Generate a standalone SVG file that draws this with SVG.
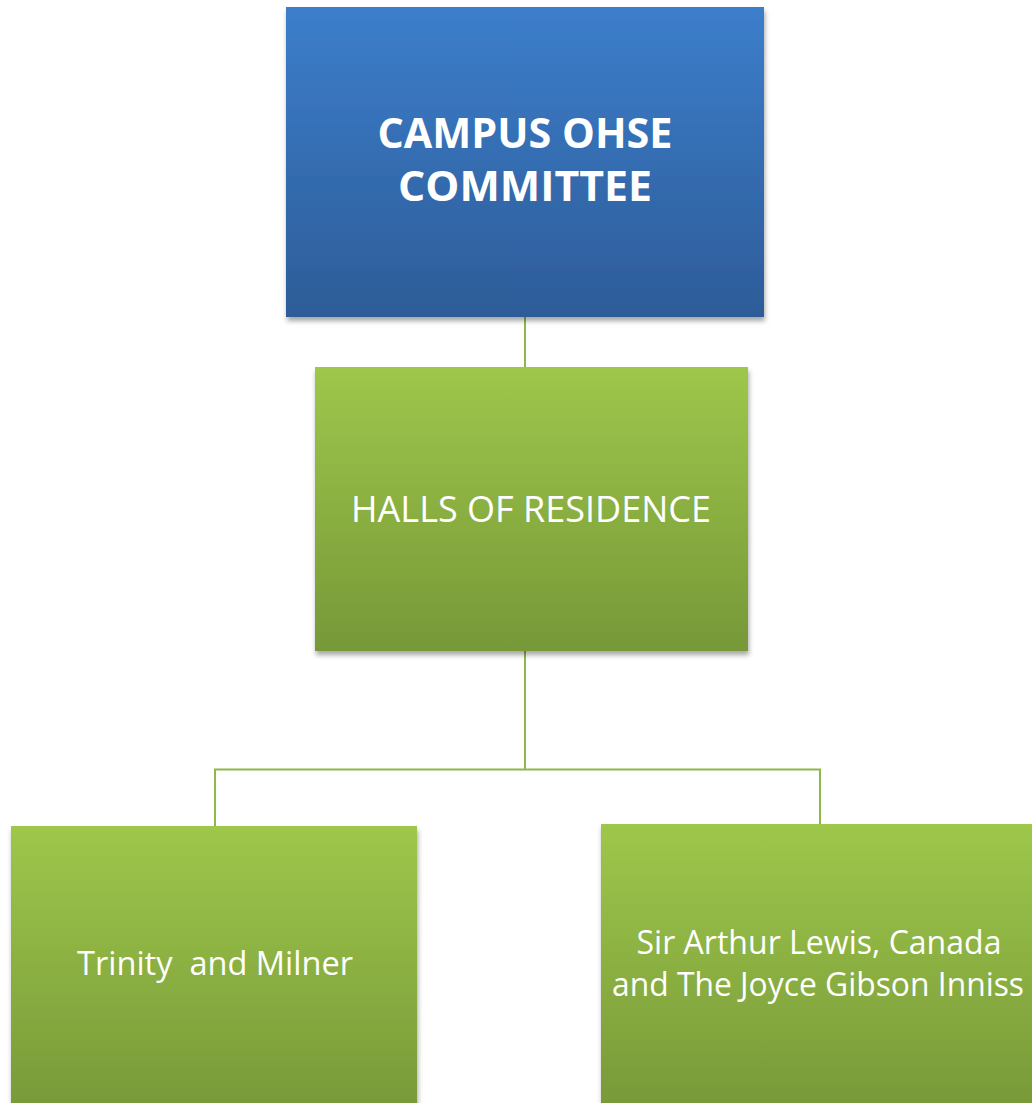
<svg xmlns="http://www.w3.org/2000/svg" width="1032" height="1103" viewBox="0 0 1032 1103">
<style>
.t{font-family:"Open Sans","Noto Sans","Liberation Sans",sans-serif;fill:#ffffff;text-anchor:middle}
.b{font-weight:bold;font-size:41px}
.n{font-size:37px}
.s{font-size:33px}
.conn{stroke:#8db84a;stroke-width:2;fill:none}
</style>
<defs>
<linearGradient id="gBlue" x1="0" y1="0" x2="0" y2="1">
<stop offset="0" stop-color="#3c7ecb"/>
<stop offset="1" stop-color="#2d5c98"/>
</linearGradient>
<linearGradient id="gGreen" x1="0" y1="0" x2="0" y2="1">
<stop offset="0" stop-color="#9ec74b"/>
<stop offset="1" stop-color="#779838"/>
</linearGradient>
<filter id="sh" x="-5%" y="-5%" width="115%" height="115%">
<feDropShadow dx="1" dy="4" stdDeviation="2.5" flood-color="#000" flood-opacity="0.35"/>
</filter>
</defs>
<rect width="1032" height="1103" fill="#ffffff"/>
<g id="connectors">
<line class="conn" x1="525" y1="317" x2="525" y2="367"/>
<polyline class="conn" points="525,651 525,769.5"/>
<polyline class="conn" points="215,826 215,769.5 820,769.5 820,824"/>
</g>
<g id="node-campus">
<rect x="286" y="7" width="478" height="310" fill="url(#gBlue)" filter="url(#sh)"/>
<text class="t b" x="525" y="148" textLength="295" lengthAdjust="spacingAndGlyphs">CAMPUS OHSE</text>
<text class="t b" x="525" y="201" textLength="254" lengthAdjust="spacingAndGlyphs">COMMITTEE</text>
</g>
<g id="node-halls">
<rect x="315" y="367" width="433" height="284" fill="url(#gGreen)" filter="url(#sh)"/>
<text class="t n" x="531" y="522" textLength="360" lengthAdjust="spacingAndGlyphs">HALLS OF RESIDENCE</text>
</g>
<g id="node-trinity">
<rect x="11" y="826" width="406" height="290" fill="url(#gGreen)" filter="url(#sh)"/>
<text class="t s" x="215" y="975" textLength="276" lengthAdjust="spacingAndGlyphs" xml:space="preserve" style="white-space:pre">Trinity  and Milner</text>
</g>
<g id="node-sal">
<rect x="601" y="824" width="440" height="290" fill="url(#gGreen)" filter="url(#sh)"/>
<text class="t s" x="819" y="954" textLength="365" lengthAdjust="spacingAndGlyphs">Sir Arthur Lewis, Canada</text>
<text class="t s" x="818" y="996" textLength="412" lengthAdjust="spacingAndGlyphs">and The Joyce Gibson Inniss</text>
</g>
</svg>
